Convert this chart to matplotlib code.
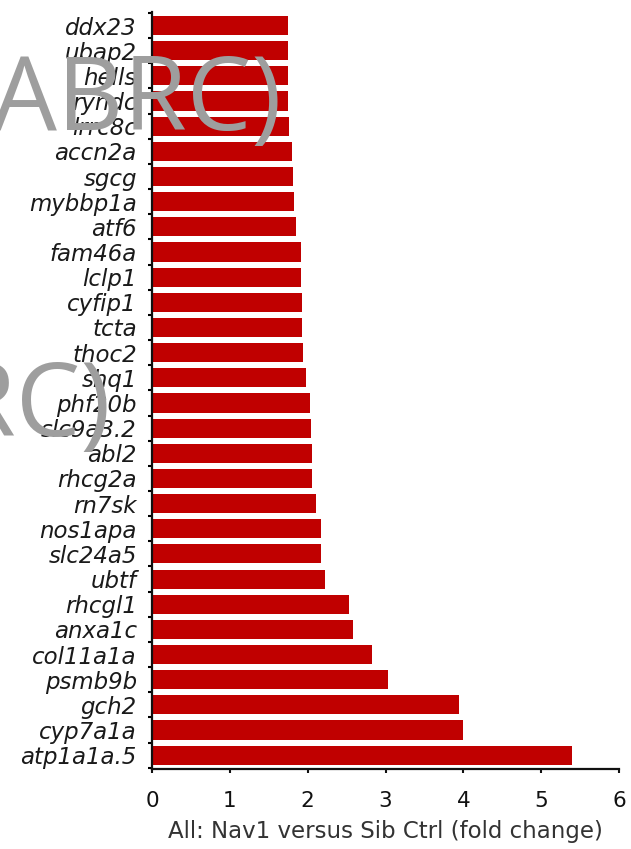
import matplotlib
matplotlib.use("Agg")
import matplotlib.pyplot as plt
import numpy as np

# genes, top to bottom, and fold change
genes = ["ddx23", "ubap2", "hells", "ryndc", "lrrc8c", "accn2a", "sgcg",
         "mybbp1a", "atf6", "fam46a", "lclp1", "cyfip1", "tcta", "thoc2",
         "shq1", "phf20b", "slc9a3.2", "abl2", "rhcg2a", "rn7sk", "nos1apa",
         "slc24a5", "ubtf", "rhcgl1", "anxa1c", "col11a1a", "psmb9b", "gch2",
         "cyp7a1a", "atp1a1a.5"]
fold = [1.75, 1.75, 1.75, 1.75, 1.76, 1.80, 1.81, 1.83, 1.85, 1.92,
        1.92, 1.93, 1.93, 1.94, 1.98, 2.03, 2.04, 2.06, 2.06, 2.11,
        2.17, 2.17, 2.22, 2.53, 2.58, 2.82, 3.03, 3.95, 3.99, 5.40]
xticks = [0, 1, 2, 3, 4, 5, 6]

fig = plt.figure(figsize=(6.31, 8.49), dpi=100)
ax = fig.add_axes([0.241, 0.0942, 0.740, 0.892])

y = np.arange(len(genes))
ax.barh(y, fold, height=0.76, color="#c00000", zorder=2)

ax.set_xlim(0, 6)
ax.set_ylim(len(genes) - 0.45, -0.55)

ax.set_yticks(y)
ax.set_yticklabels(genes, fontsize=16.5, style="italic", color="#1a1a1a")
ax.set_yticks(np.arange(len(genes) + 1) - 0.5, minor=True)
ax.tick_params(axis="y", which="major", length=0, pad=11)
ax.tick_params(axis="y", which="minor", length=3, width=1.5, direction="out")

ax.set_xticks(xticks)
ax.tick_params(axis="x", length=3, width=1.5, labelsize=15.5, pad=13, colors="#111111")
ax.set_xlabel("All: Nav1 versus Sib Ctrl (fold change)", fontsize=16.5,
              color="#333333", labelpad=6)

for s in ["top", "right"]:
    ax.spines[s].set_visible(False)
for s in ["left", "bottom"]:
    ax.spines[s].set_linewidth(1.6)
    ax.spines[s].set_color("#111111")

# watermark overlay
fig.text(-0.012, 0.847, "ABRC)", fontsize=74, family="Open Sans",
         color="#9e9e9e", va="baseline", ha="left")
fig.text(-0.284, 0.486, "ABRC)", fontsize=74, family="Open Sans",
         color="#9e9e9e", va="baseline", ha="left")

fig.savefig("out.png", dpi=100)
